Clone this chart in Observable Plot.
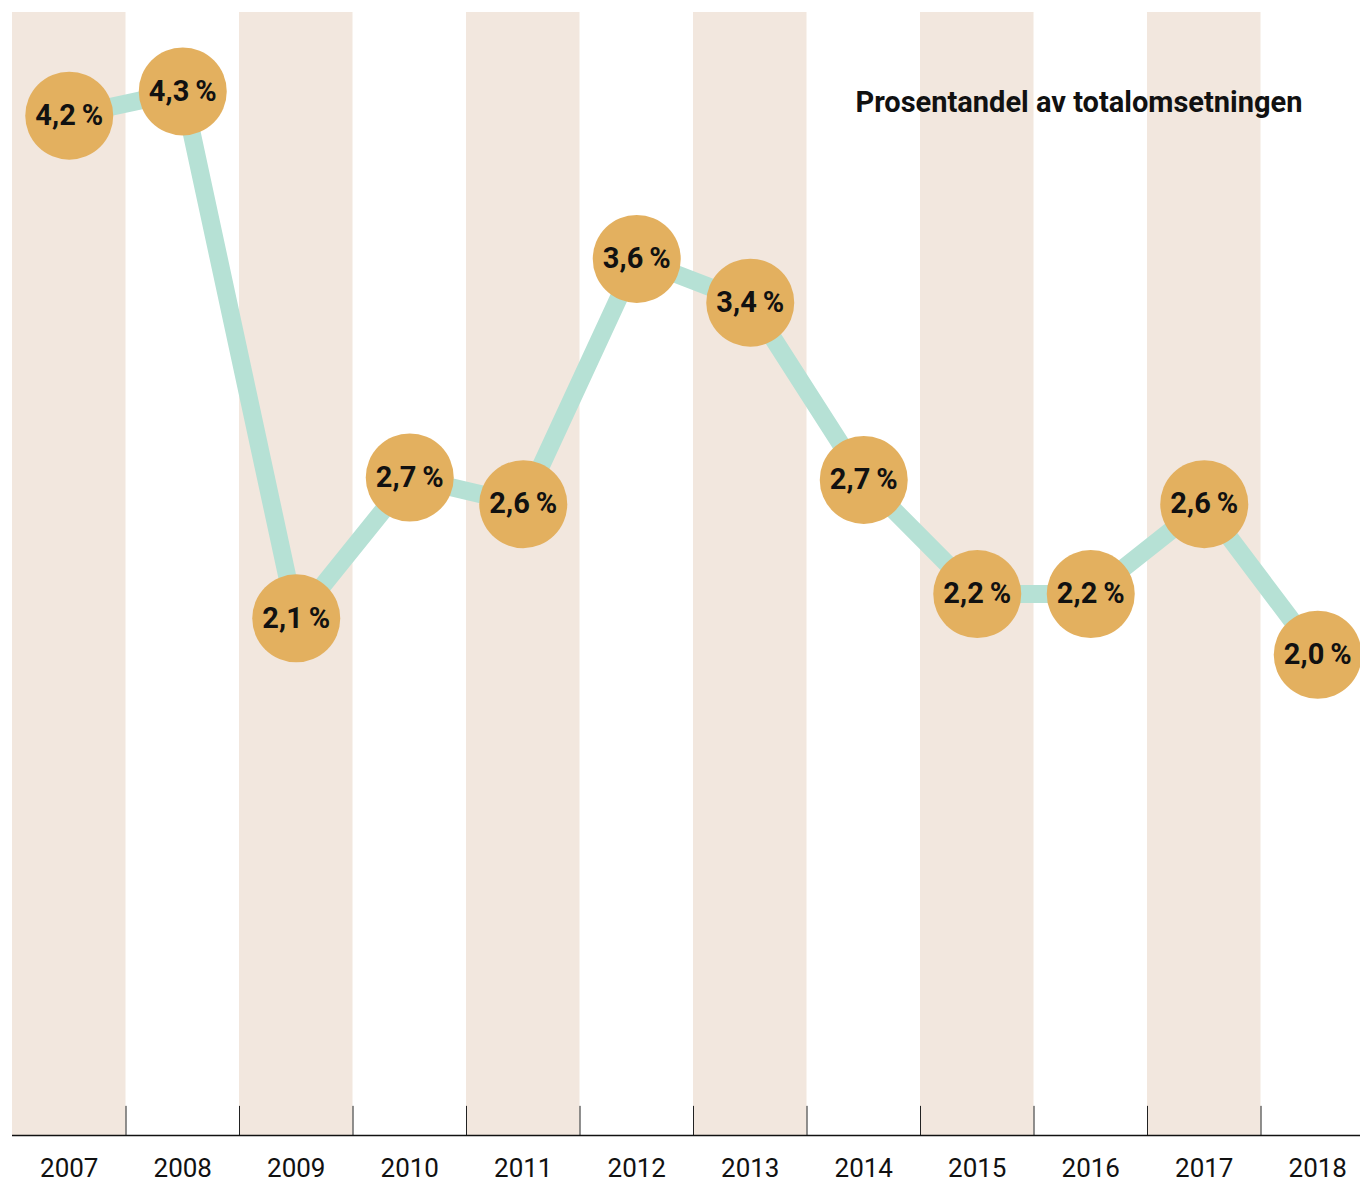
<!DOCTYPE html>
<html>
<head>
<meta charset="utf-8">
<script src="https://cdn.jsdelivr.net/npm/d3@7"></script>
<script src="https://cdn.jsdelivr.net/npm/@observablehq/plot@0.6"></script>
<style>
  html, body { margin: 0; padding: 0; background: #fff; overflow: hidden; }
  #chart { width: 1360px; height: 1184px; overflow: hidden; }
  #chart svg { max-width: none !important; display: block; }
</style>
</head>
<body>
<div id="chart"></div>
<script>
const years = [2007, 2008, 2009, 2010, 2011, 2012, 2013, 2014, 2015, 2016, 2017, 2018];
const shares = [4.2, 4.3, 2.13, 2.71, 2.6, 3.61, 3.43, 2.7, 2.23, 2.23, 2.6, 1.98];
const shadedYears = [2007, 2009, 2011, 2013, 2015, 2017];
const title = "Prosentandel av totalomsetningen";

const data = years.map((year, i) => ({year, value: shares[i]}));
const fmt = v => d3.format(".1f")(v).replace(".", ",") + "\u2009%";

const W = 1374, ML = 12, MR = 0;
const bw = (W - ML - MR) / years.length;
const FONT = "Roboto, 'Noto Sans', sans-serif";

const chart = Plot.plot({
  width: W,
  height: 1184,
  marginTop: 12,
  marginBottom: 49,
  marginLeft: ML,
  marginRight: MR,
  style: {fontFamily: FONT, background: "#fff", overflow: "visible", maxWidth: "none"},
  x: {type: "band", domain: years, padding: 0, round: false, axis: null},
  y: {domain: [0, 4.625], axis: null},
  marks: [
    Plot.cell(shadedYears, {x: d => d, fill: "#f2e7de"}),
    Plot.ruleX(years.slice(1), {x: d => d, dx: -bw / 2, y1: 0, y2: 0.12, stroke: "#222", strokeWidth: 1}),
    Plot.ruleY([0], {stroke: "#111", strokeWidth: 1.5}),
    Plot.axisX({tickSize: 0, tickPadding: 23, fontSize: 26, fill: "#111", label: null, tickFormat: d => String(d)}),
    Plot.line(data, {x: "year", y: "value", stroke: "#b6e1d5", strokeWidth: 18, strokeLinejoin: "miter"}),
    Plot.dot(data, {x: "year", y: "value", r: 44, fill: "#e3b05f", stroke: "none"}),
    Plot.text(data, {x: "year", y: "value", text: d => fmt(d.value), fontSize: 29, fontWeight: 700, fill: "#111"}),
    Plot.text([title], {frameAnchor: "top-right", dx: -72, dy: 79, text: d => d, fontSize: 29, fontWeight: 700, fill: "#111", textAnchor: "end"})
  ]
});
document.getElementById("chart").appendChild(chart);
</script>
</body>
</html>
